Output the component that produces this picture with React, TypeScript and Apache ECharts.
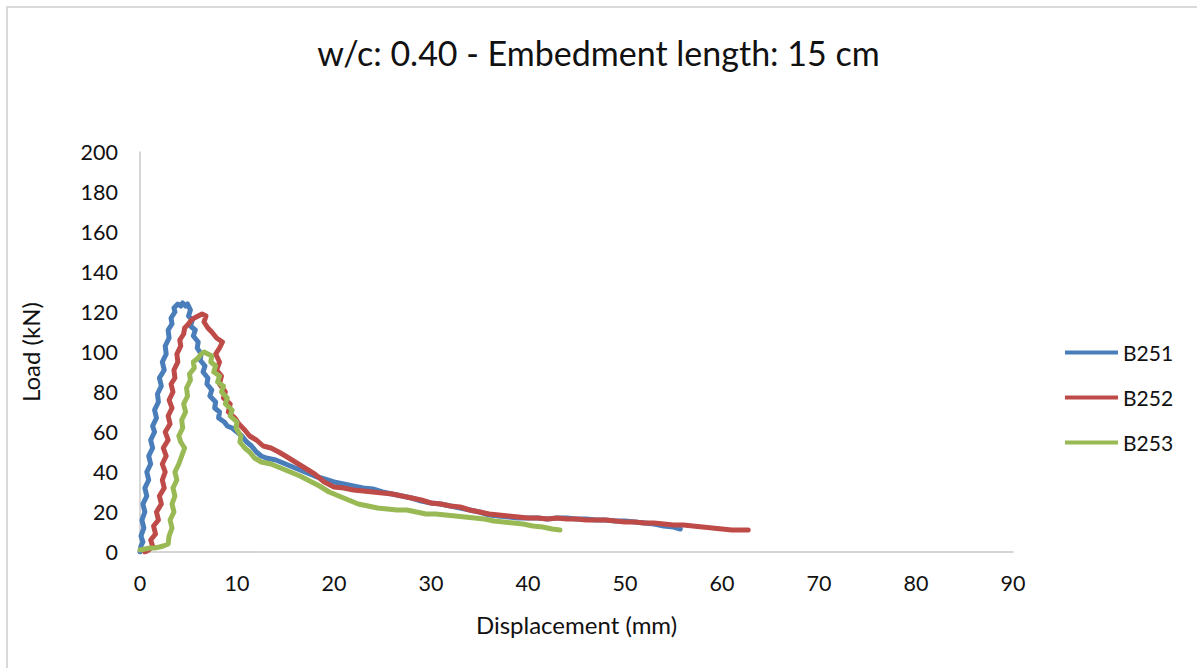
import React, { useEffect, useRef } from "react";
import * as echarts from "echarts";

const seriesNames = ["B251", "B252", "B253"];
const seriesColors = ["#4A7EBB", "#BE4B48", "#98B954"];

const b251: number[][] = [
  [0, 0], [0.1, 3], [0.3, 5], [0.1, 8], [0.4, 12], [0.2, 16], [0.5, 20], [0.3, 24], [0.7, 28], [0.5, 32],
  [0.9, 36], [0.7, 40], [1.1, 44], [0.9, 48], [1.3, 52], [1.1, 56], [1.5, 60], [1.3, 63], [1.7, 67], [1.5, 71],
  [1.9, 75], [1.8, 79], [2.2, 83], [2.0, 87], [2.5, 91], [2.3, 95], [2.7, 99], [2.6, 103], [3.0, 107], [2.9, 111],
  [3.3, 114], [3.2, 117], [3.6, 120], [3.5, 122], [3.9, 124], [4.2, 123], [4.4, 124.5], [4.7, 123], [4.9, 124],
  [5.2, 121], [5.0, 118], [5.4, 116], [5.2, 113], [5.7, 111], [5.5, 108], [6.0, 105], [5.9, 102], [6.3, 99],
  [6.2, 96], [6.7, 93], [6.5, 90], [7.0, 87], [6.9, 84], [7.4, 81], [7.2, 78], [7.8, 75], [7.7, 72], [8.2, 70],
  [8.1, 67], [8.7, 65], [9.0, 63], [9.5, 62], [10, 60], [10.5, 58], [11, 55], [11.5, 53], [12, 50], [12.5, 48],
  [13, 47], [14, 46], [15, 44], [16, 42], [17, 40], [18, 38], [19, 36.5], [20, 35], [21, 34], [22, 33], [23, 32],
  [24, 31.5], [25, 30], [26, 29], [27, 28], [28, 27], [29, 25.5], [30, 24.5], [31, 24], [32, 23], [33, 22],
  [34, 21], [35, 20], [36, 18.5], [37, 18], [38, 17.5], [39, 17], [40, 17], [41, 17], [42, 16.5], [43, 17],
  [44, 17], [45, 16.5], [46, 16.5], [47, 16], [48, 16], [49, 15.5], [50, 15.5], [51, 15], [52, 14.5], [53, 14],
  [54, 13], [55, 12.5], [55.7, 11.5],
];

const b252: number[][] = [
  [0.5, 0], [0.9, 1], [1.3, 3], [1.1, 6], [1.6, 9], [1.4, 13], [1.9, 16], [1.7, 20], [2.2, 24], [2.0, 28],
  [2.5, 32], [2.3, 36], [2.6, 40], [2.3, 44], [2.7, 48], [2.4, 52], [2.9, 56], [2.6, 60], [3.1, 64], [2.9, 68],
  [3.3, 72], [3.0, 76], [3.4, 80], [3.2, 84], [3.6, 87], [3.5, 91], [3.9, 95], [3.8, 99], [4.2, 103], [4.1, 106],
  [4.5, 109], [4.6, 112], [5.0, 114], [5.3, 116], [5.6, 117], [6.0, 118], [6.4, 119], [6.8, 118], [6.6, 115],
  [7.0, 112], [7.4, 110], [7.9, 107], [8.5, 105], [8.2, 102], [7.8, 99], [8.2, 95], [7.9, 91], [8.4, 88],
  [8.2, 84], [8.8, 80], [8.6, 77], [9.3, 74], [9.1, 70], [9.8, 67], [10.2, 64], [10.8, 61], [11.3, 58], [12, 56],
  [12.7, 53], [13.5, 52], [14.3, 50], [15, 48], [16, 45], [17, 42], [18, 39], [19, 35], [20, 32.5], [21, 32],
  [22, 31], [23, 30.5], [24, 30], [25, 29.5], [26, 29], [27, 28], [28, 27], [29, 26], [30, 24.5], [31, 24],
  [32, 23], [33, 22.5], [34, 21], [35, 20], [36, 19], [37, 18.5], [38, 18], [39, 17.5], [40, 17], [41, 17],
  [42, 16.5], [43, 17], [44, 16.5], [45, 16.5], [46, 16], [47, 16], [48, 16], [49, 15.5], [50, 15], [51, 15],
  [52, 14.5], [53, 14.5], [54, 14], [55, 13.5], [56, 13.5], [57, 13], [58, 12.5], [59, 12], [60, 11.5],
  [61, 11], [62, 11], [62.7, 11],
];

const b253: number[][] = [
  [0, 1], [0.5, 1.5], [1, 2], [1.5, 2], [2, 2.5], [2.4, 3], [2.9, 4], [3.0, 8], [3.3, 12], [3.1, 16], [3.5, 20],
  [3.3, 24], [3.6, 28], [3.4, 32], [3.8, 36], [3.6, 40], [4.0, 44], [4.3, 48], [4.6, 52], [4.2, 55], [4.0, 58],
  [4.4, 62], [4.3, 66], [4.7, 70], [4.5, 74], [4.9, 78], [4.8, 82], [5.2, 86], [5.1, 89], [5.6, 92], [5.5, 95],
  [6.0, 97], [6.3, 99], [6.6, 100], [7.0, 99], [7.4, 98], [7.3, 95], [7.8, 93], [7.6, 90], [8.2, 88], [8.0, 85],
  [8.6, 83], [8.4, 80], [9.0, 77], [8.8, 74], [9.5, 71], [9.3, 68], [10.0, 65], [9.9, 62], [10.4, 58],
  [10.3, 55], [10.8, 52], [11.3, 50], [11.8, 47], [12.5, 45], [13.5, 44], [14.5, 42], [15.5, 40], [16.5, 38],
  [17.5, 35.5], [18.5, 33], [19.5, 30], [20.5, 28], [21.5, 26], [22.5, 24], [23.5, 23], [24.5, 22], [25.5, 21.5],
  [26.5, 21], [27.5, 21], [28.5, 20], [29.5, 19], [30.5, 19], [31.5, 18.5], [32.5, 18], [33.5, 17.5],
  [34.5, 17], [35.5, 16.5], [36.5, 15.5], [37.5, 15], [38.5, 14.5], [39.5, 14], [40.5, 13], [41.5, 12.5],
  [42.5, 11.5], [43.3, 11],
];

const seriesData = [b251, b252, b253];

const titleText = "w/c: 0.40 - Embedment length: 15 cm";
const xAxisName = "Displacement (mm)";
const yAxisName = "Load (kN)";

const FONT = "Lato, 'Open Sans', sans-serif";

export default function App() {
  const ref = useRef<HTMLDivElement>(null);
  useEffect(() => {
    if (!ref.current) return;
    const chart = echarts.init(ref.current, undefined, { renderer: "svg" });
    chart.setOption({
      animation: false,
      backgroundColor: "#ffffff",
      textStyle: { fontFamily: FONT },
      graphic: [
        {
          type: "rect",
          shape: { x: 7, y: 7, width: 1250, height: 720 },
          style: { fill: "none", stroke: "#d9d9d9", lineWidth: 2 },
          silent: true,
        },
      ],
      title: {
        text: titleText,
        left: "center",
        top: 30,
        textStyle: { fontFamily: FONT, fontSize: 34, fontWeight: "normal", color: "#111" },
      },
      legend: {
        orient: "vertical",
        left: 1065,
        top: 342,
        padding: 0,
        itemWidth: 53,
        itemHeight: 20,
        itemGap: 24,
        icon: "path://M0,8 L53,8 L53,12 L0,12 Z",
        textStyle: { fontFamily: FONT, fontSize: 21, lineHeight: 20, color: "#111", padding: [0, 0, 0, 0] },
        data: seriesNames,
      },
      grid: { left: 140, right: 184, top: 152, bottom: 116, containLabel: false },
      xAxis: {
        type: "value",
        min: 0,
        max: 90,
        interval: 10,
        name: xAxisName,
        nameLocation: "middle",
        nameGap: 60,
        nameTextStyle: { fontFamily: FONT, fontSize: 24, color: "#111" },
        axisLine: { show: true, lineStyle: { color: "#c8c8c8", width: 1.5 } },
        axisTick: { show: false },
        splitLine: { show: false },
        axisLabel: { fontFamily: FONT, fontSize: 21.5, color: "#111", margin: 20 },
      },
      yAxis: {
        type: "value",
        min: 0,
        max: 200,
        interval: 20,
        name: yAxisName,
        nameLocation: "middle",
        nameGap: 98,
        nameRotate: 90,
        nameTextStyle: { fontFamily: FONT, fontSize: 24, color: "#111" },
        axisLine: { show: true, lineStyle: { color: "#c8c8c8", width: 1.5 } },
        axisTick: { show: false },
        splitLine: { show: false },
        axisLabel: { fontFamily: FONT, fontSize: 21.5, color: "#111", margin: 22 },
      },
      series: seriesNames.map((name, i) => ({
        name,
        type: "line",
        data: seriesData[i],
        showSymbol: false,
        symbol: "none",
        smooth: false,
        color: seriesColors[i],
        lineStyle: { width: 5, color: seriesColors[i], cap: "round", join: "round" },
      })),
    });
    return () => chart.dispose();
  }, []);
  return (
    <div style={{ position: "absolute", left: 0, top: 0, width: 1197, height: 668 }}>
      <div ref={ref} style={{ width: 1197, height: 668 }} />
    </div>
  );
}
